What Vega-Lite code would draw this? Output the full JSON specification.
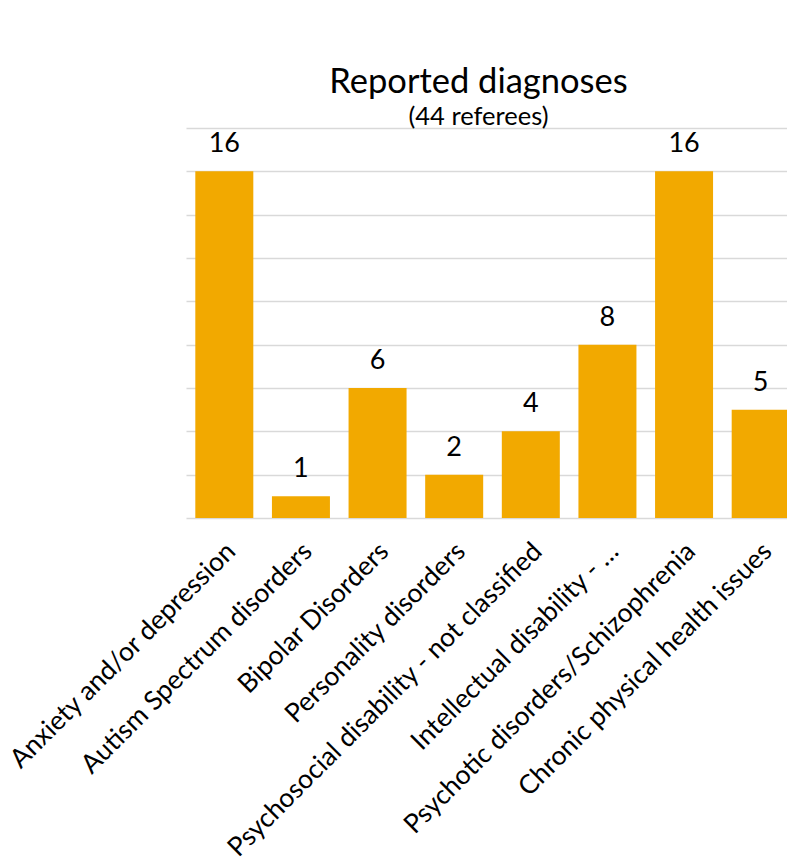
{
  "$schema": "https://vega.github.io/schema/vega-lite/v6.json",
  "autosize": {"type": "none"},
  "padding": {"left": 186, "top": 128, "right": 0, "bottom": 346},
  "width": 613,
  "height": 390,
  "background": "white",
  "title": {
    "text": "Reported diagnoses",
    "subtitle": "(44 referees)",
    "anchor": "middle",
    "frame": "group",
    "dx": -14,
    "offset": -3,
    "subtitlePadding": 4,
    "font": "Lato",
    "fontSize": 34.5,
    "fontWeight": "normal",
    "color": "#000000",
    "subtitleFont": "Lato",
    "subtitleFontSize": 25.5,
    "subtitleColor": "#000000"
  },
  "data": {
    "values": [
      {"diagnosis": "Anxiety and/or depression", "count": 16},
      {"diagnosis": "Autism Spectrum disorders", "count": 1},
      {"diagnosis": "Bipolar Disorders", "count": 6},
      {"diagnosis": "Personality disorders", "count": 2},
      {"diagnosis": "Psychosocial disability - not classified", "count": 4},
      {"diagnosis": "Intellectual disability - …", "count": 8},
      {"diagnosis": "Psychotic disorders/Schizophrenia", "count": 16},
      {"diagnosis": "Chronic physical health issues", "count": 5}
    ]
  },
  "encoding": {
    "x": {
      "field": "diagnosis",
      "type": "nominal",
      "sort": null,
      "title": null,
      "scale": {"paddingInner": 0.243, "paddingOuter": 0.1215},
      "axis": {
        "labelAngle": -45,
        "labelAlign": "right",
        "labelBaseline": "middle",
        "labelPadding": 29,
        "labelOffset": 7,
        "labelFont": "Lato",
        "labelFontSize": 26.5,
        "labelColor": "#000000",
        "labelLimit": 0,
        "ticks": false,
        "domain": false,
        "grid": false
      }
    },
    "y": {
      "field": "count",
      "type": "quantitative",
      "title": null,
      "scale": {"domain": [0, 18], "nice": false, "zero": true},
      "axis": {
        "values": [0, 2, 4, 6, 8, 10, 12, 14, 16, 18],
        "labels": false,
        "ticks": false,
        "domain": false,
        "grid": true,
        "gridColor": "#D9D9D9",
        "gridWidth": 1.5
      }
    }
  },
  "layer": [
    {"mark": {"type": "bar", "color": "#F2A900"}},
    {
      "mark": {
        "type": "text",
        "baseline": "alphabetic",
        "dy": -19,
        "font": "Lato",
        "fontSize": 27,
        "color": "#000000"
      },
      "encoding": {"text": {"field": "count", "type": "quantitative"}}
    }
  ],
  "config": {"view": {"stroke": null}}
}
